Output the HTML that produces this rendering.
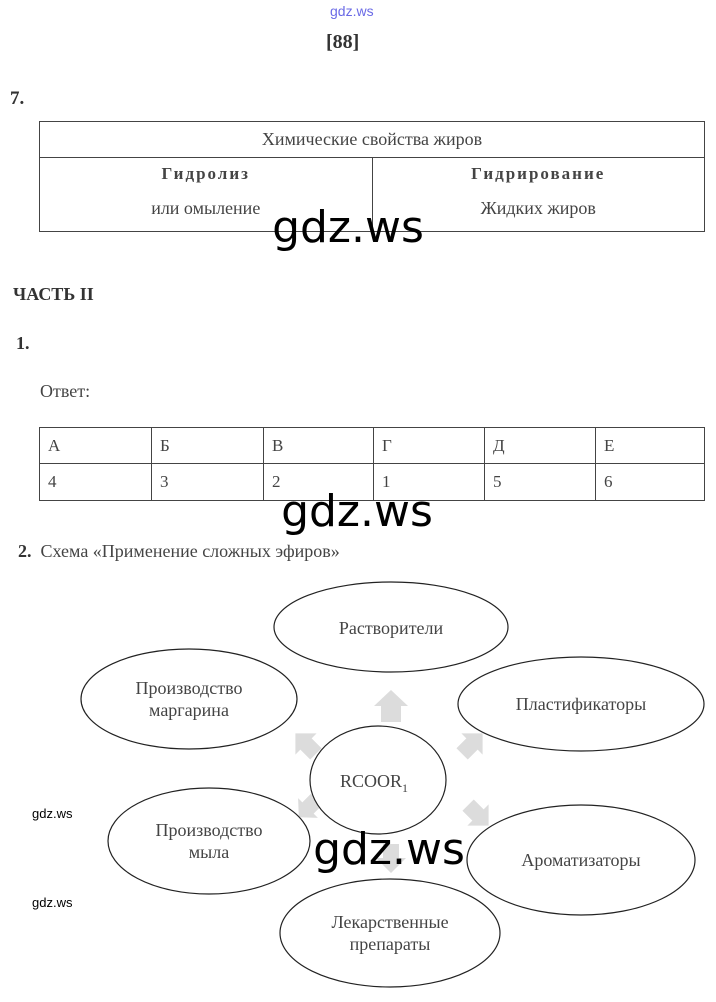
<!DOCTYPE html>
<html><head><meta charset="utf-8"><style>
body{margin:0;width:716px;height:1002px;background:#fff;position:relative;overflow:hidden;font-family:"Liberation Serif",serif;color:#333}
.a{position:absolute;white-space:nowrap}
.wm{position:absolute;font-family:"DejaVu Sans","Liberation Sans",sans-serif;font-size:44px;color:#000;line-height:1;transform:translateX(-50%)}
.sm{position:absolute;font-family:"Liberation Sans",sans-serif;font-size:13px;color:#000}
table{position:absolute;border-collapse:collapse;table-layout:fixed}
td{border:1px solid #444;font-size:17px;color:#444;padding:0;box-sizing:border-box}
</style></head><body>
<div class="a" style="left:330px;top:3px;font-family:'Liberation Sans',sans-serif;font-size:14px;color:#6a6ae6">gdz.ws</div>
<div class="a" style="left:326px;top:31px;font-size:20px;font-weight:bold;color:#333">[88]</div>
<div class="a" style="left:10px;top:88px;font-size:19px;font-weight:bold">7.</div>
<table style="left:39px;top:121px;width:666px">
<tr><td colspan="2" style="height:36px;text-align:center;font-size:18px">Химические свойства жиров</td></tr>
<tr><td style="width:333px;height:74px;text-align:center;vertical-align:top;padding-top:6px"><b style="letter-spacing:2px;font-size:17px">Гидролиз</b><div style="margin-top:14px;font-size:18px">или омыление</div></td>
<td style="text-align:center;vertical-align:top;padding-top:6px"><b style="letter-spacing:2px;font-size:17px">Гидрирование</b><div style="margin-top:14px;font-size:18px">Жидких жиров</div></td></tr>
</table>
<div class="wm" style="left:348px;top:206px">gdz.ws</div>
<div class="a" style="left:13px;top:284px;font-size:18px;font-weight:bold">ЧАСТЬ II</div>
<div class="a" style="left:16px;top:333px;font-size:18px;font-weight:bold">1.</div>
<div class="a" style="left:40px;top:381px;font-size:18px;color:#444">Ответ:</div>
<table style="left:39px;top:427px;width:666px">
<tr><td style="height:36px;width:112px;padding-left:8px">А</td><td style="width:112px;padding-left:8px">Б</td><td style="width:110px;padding-left:8px">В</td><td style="width:111px;padding-left:8px">Г</td><td style="width:111px;padding-left:8px">Д</td><td style="padding-left:8px">Е</td></tr>
<tr><td style="height:37px;padding-left:8px">4</td><td style="padding-left:8px">3</td><td style="padding-left:8px">2</td><td style="padding-left:8px">1</td><td style="padding-left:8px">5</td><td style="padding-left:8px">6</td></tr>
</table>
<div class="wm" style="left:357px;top:490px">gdz.ws</div>
<div class="a" style="left:18px;top:541px;font-size:18px;color:#444"><b style="color:#333">2.</b>&nbsp;&nbsp;Схема «Применение сложных эфиров»</div>
<svg class="a" style="left:0;top:0" width="716" height="1002">
<g fill="#dcdcdc">
<polygon points="381,722 381,706 374,706 391,690 408,706 401,706 401,722"/>
<g transform="translate(306,744) rotate(-45)"><polygon points="-8,14 -8,0 -15,0 0,-15 15,0 8,0 8,14"/></g>
<g transform="translate(472,744) rotate(45)"><polygon points="-8,14 -8,0 -15,0 0,-15 15,0 8,0 8,14"/></g>
<g transform="translate(308,808) rotate(-135)"><polygon points="-8,12 -8,0 -14,0 0,-13 14,0 8,0 8,12"/></g>
<g transform="translate(478,815) rotate(135)"><polygon points="-8,14 -8,0 -15,0 0,-15 15,0 8,0 8,14"/></g>
<g transform="translate(391,858) rotate(180)"><polygon points="-8,14 -8,0 -15,0 0,-15 15,0 8,0 8,14"/></g>
</g>
<g fill="#fff" stroke="#222" stroke-width="1.2">
<ellipse cx="391" cy="627" rx="117" ry="45"/>
<ellipse cx="581" cy="704" rx="123" ry="47"/>
<ellipse cx="189" cy="699" rx="108" ry="50"/>
<ellipse cx="378" cy="780" rx="68" ry="54"/>
<ellipse cx="209" cy="841" rx="101" ry="53"/>
<ellipse cx="581" cy="860" rx="114" ry="55"/>
<ellipse cx="390" cy="933" rx="110" ry="54"/>
</g>
<g font-family="Liberation Serif,serif" font-size="18" fill="#444" text-anchor="middle">
<text x="391" y="634">Растворители</text>
<text x="581" y="710">Пластификаторы</text>
<text x="189" y="694">Производство</text><text x="189" y="716">маргарина</text>
<text x="374" y="787">RCOOR<tspan font-size="12" dy="5">1</tspan></text>
<text x="209" y="836">Производство</text><text x="209" y="858">мыла</text>
<text x="581" y="866">Ароматизаторы</text>
<text x="390" y="928">Лекарственные</text><text x="390" y="950">препараты</text>
</g>
</svg>
<div class="wm" style="left:389px;top:828px">gdz.ws</div>
<div class="sm" style="left:32px;top:806px">gdz.ws</div>
<div class="sm" style="left:32px;top:895px">gdz.ws</div>
</body></html>
